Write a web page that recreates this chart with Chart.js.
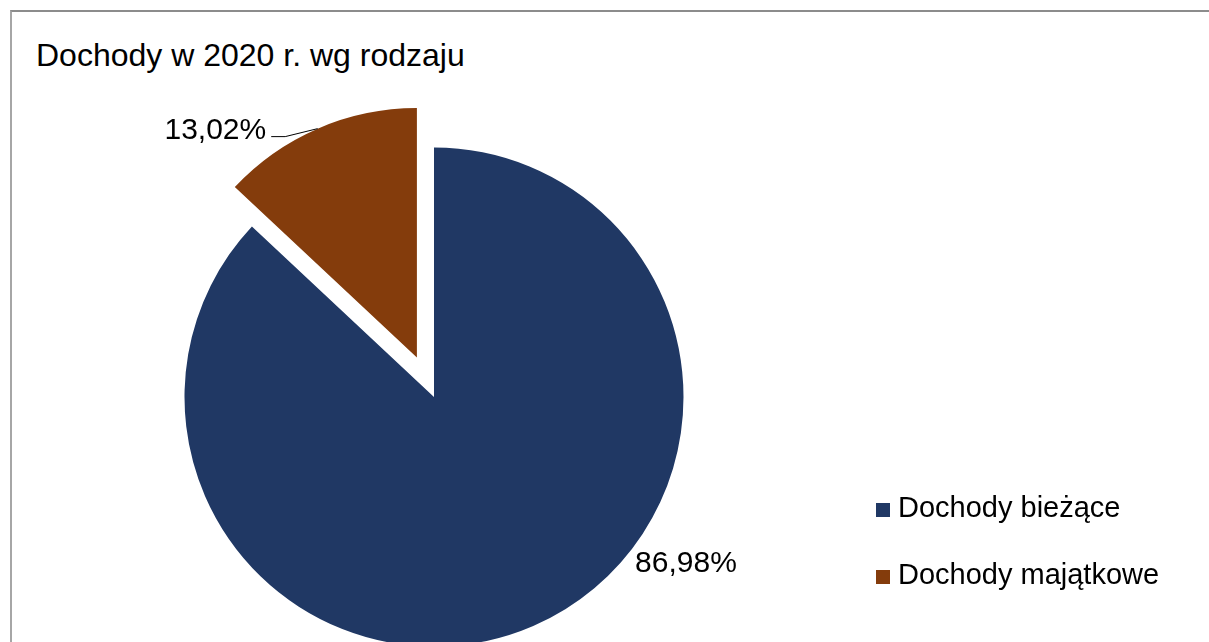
<!DOCTYPE html>
<html>
<head>
<meta charset="utf-8">
<style>
  html, body { margin: 0; padding: 0; background: #fff; }
  body { width: 1209px; height: 642px; position: relative; overflow: hidden; font-family: "Liberation Sans", Arial, sans-serif; }
  #frame { position: absolute; left: 10px; top: 10px; right: -2px; bottom: -2px; border-left: 2px solid #a6a6a6; border-top: 2px solid #8c8c8c; }
  #title { position: absolute; left: 36px; top: 39px; font-size: 32px; line-height: 32px; color: #000; white-space: nowrap; }
  #chart { position: absolute; left: 0; top: 0; }
  .leg { position: absolute; left: 876px; font-size: 29px; line-height: 29px; color: #000; white-space: nowrap; }
  .leg span { position: absolute; left: 0; top: 10.5px; width: 14px; height: 14px; }
  .leg b { font-weight: normal; position: absolute; left: 22px; top: 0; }
</style>
</head>
<body>
<div id="frame"></div>
<div id="title">Dochody w 2020 r. wg rodzaju</div>
<canvas id="chart" width="1209" height="642"></canvas>
<script src="https://cdn.jsdelivr.net/npm/chart.js@4/dist/chart.umd.min.js"></script>
<script>
// data
const categories = ['Dochody bieżące', 'Dochody majątkowe'];
const shares = [86.98, 13.02];
const valueLabels = ['86,98%', '13,02%'];
const colors = ['#203864', '#843C0C'];

// label placement: angle clockwise from 12 o'clock, distance as a fraction of radius
const labelPlace = [
  { angle: 123.2, dist: 1.207, leader: false },
  { angle: 318.7, dist: 1.224, leader: true },
];
const RADIUS = 249.5;

// Chart.js grows an offset arc by offset/4*fix; undo it so the exploded slice keeps the same radius
const keepRadius = {
  id: 'keepRadius',
  afterDatasetUpdate(chart, args) {
    args.meta.data.forEach(el => {
      const o = (el.options.offset || 0) / 4;
      if (!o) return;
      const fix = 1 - Math.sin(Math.min(Math.PI, el.circumference));
      const ro = o * fix;
      el.outerRadius = RADIUS - ro;
      const d = (ro / Math.PI) / RADIUS / 2;
      el.startAngle -= d;
      el.endAngle += d;
    });
  }
};

const pieLabels = {
  id: 'pieLabels',
  afterDatasetsDraw(chart) {
    const ctx = chart.ctx;
    const meta = chart.getDatasetMeta(0);
    ctx.save();
    ctx.font = '30px "Liberation Sans", Arial, sans-serif';
    ctx.fillStyle = '#000';
    ctx.textAlign = 'center';
    ctx.textBaseline = 'alphabetic';
    meta.data.forEach((el, i) => {
      const half = ((el.startAngle + el.endAngle) / 2);
      const t = (el.options.offset || 0) / 4;
      const cx = el.x + Math.cos(half) * t;
      const cy = el.y + Math.sin(half) * t;
      const p = labelPlace[i];
      const a = (p.angle - 90) * Math.PI / 180;
      const lx = cx + Math.cos(a) * RADIUS * p.dist;
      const ly = cy + Math.sin(a) * RADIUS * p.dist;
      ctx.fillText(valueLabels[i], lx, ly + 10.5);
      if (p.leader) {
        const w = ctx.measureText(valueLabels[i]).width;
        const ex = cx + Math.cos(half) * RADIUS;
        const ey = cy + Math.sin(half) * RADIUS;
        ctx.beginPath();
        ctx.lineWidth = 1;
        ctx.strokeStyle = '#000';
        ctx.moveTo(lx + w / 2 + 5, ly + 8.5);
        ctx.lineTo(lx + w / 2 + 19, ly + 8.5);
        ctx.lineTo(ex, ey);
        ctx.stroke();
      }
    });
    ctx.restore();
  }
};

new Chart(document.getElementById('chart'), {
  type: 'pie',
  data: {
    labels: categories,
    datasets: [{
      data: shares,
      backgroundColor: colors,
      borderWidth: 0,
      offset: [0, 172],
      hoverOffset: 0,
      clip: false,
    }]
  },
  options: {
    responsive: false,
    animation: false,
    radius: RADIUS,
    layout: { padding: { left: 0, right: 341, top: 152, bottom: 0 } },
    plugins: { legend: { display: false }, tooltip: { enabled: false } },
    events: [],
  },
  plugins: [keepRadius, pieLabels],
});

// legend
const legTops = [492.5, 559.5];
categories.forEach((c, i) => {
  const row = document.createElement('div');
  row.className = 'leg';
  row.style.top = legTops[i] + 'px';
  row.innerHTML = '<span style="background:' + colors[i] + '"></span><b>' + c + '</b>';
  document.body.appendChild(row);
});
</script>
</body>
</html>
